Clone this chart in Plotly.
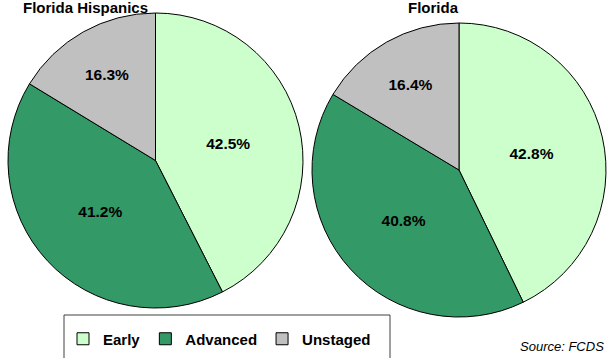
import plotly.graph_objects as go

stages = ["Early", "Advanced", "Unstaged"]
hispanic_pct = [42.5, 41.2, 16.3]
florida_pct = [42.8, 40.8, 16.4]
colors = ["#CCFFCC", "#339966", "#C0C0C0"]
titles = ["Florida Hispanics", "Florida"]

W, H = 608, 358
FONT = "Liberation Sans, Arial"

def dom(x0, x1, ytop, ybot):
    return dict(x=[x0 / W, x1 / W], y=[(H - ybot) / H, (H - ytop) / H])

fig = go.Figure()
for i, (vals, d) in enumerate([(hispanic_pct, dom(8, 303, 13, 308)),
                               (florida_pct, dom(312, 606, 23, 317))]):
    fig.add_trace(go.Pie(
        labels=stages, values=vals, sort=False, direction="clockwise", rotation=0,
        marker=dict(colors=colors, line=dict(color="black", width=1)),
        texttemplate="%{value:.1f}%", textposition="inside",
        insidetextorientation="horizontal",
        textfont=dict(family=FONT, size=15.5, color="black", weight="bold"),
        domain=d, showlegend=(i == 0), hoverinfo="label+value",
    ))

for t, xc in zip(titles, [85, 433]):
    fig.add_annotation(x=xc / W, y=(H - 8) / H, xref="paper", yref="paper", text=f"<b>{t}</b>",
                       showarrow=False, font=dict(family=FONT, size=15, color="black"),
                       xanchor="center", yanchor="middle")
fig.add_annotation(x=606 / W, y=(H - 346) / H, xref="paper", yref="paper", text="<i>Source: FCDS</i>",
                   showarrow=False, font=dict(family=FONT, size=13, color="black"),
                   xanchor="right", yanchor="middle")

fig.add_shape(type="rect", xref="paper", yref="paper",
              x0=64 / W, x1=390 / W, y0=-0.05, y1=(H - 315) / H,
              line=dict(color="#404040", width=1), fillcolor="rgba(0,0,0,0)")

fig.update_layout(
    width=W, height=H, margin=dict(l=0, r=0, t=0, b=0),
    paper_bgcolor="white", plot_bgcolor="white",
    legend=dict(orientation="h", x=63 / W, y=(H - 339) / H, xanchor="left", yanchor="middle",
                font=dict(family=FONT, size=15, color="black", weight="bold"),
                bgcolor="rgba(0,0,0,0)", traceorder="normal"),
)
fig.write_html("out.html")
